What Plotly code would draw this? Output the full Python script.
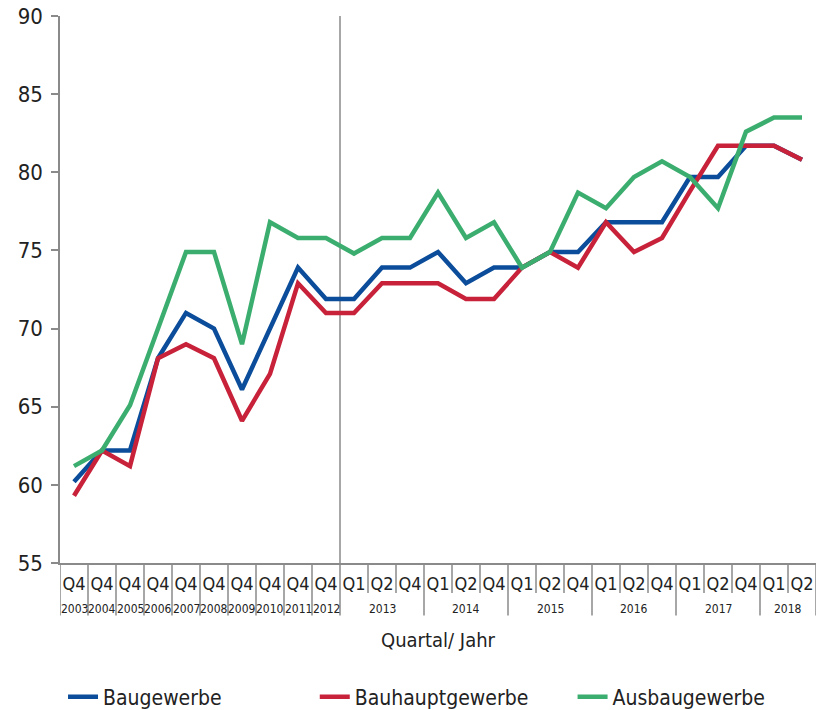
import plotly.graph_objects as go

# Quarter / year categories
quarters = ["Q4"] * 10 + ["Q1", "Q2", "Q4"] * 5 + ["Q1", "Q2"]
years = [str(y) for y in range(2003, 2013)] + \
    [y for y in ["2013", "2014", "2015", "2016", "2017"] for _ in range(3)] + ["2018", "2018"]

# Series values
baugewerbe = [60.2, 62.2, 62.2, 68.1, 71.0, 70.0, 66.1, 70.0, 73.9, 71.9,
              71.9, 73.9, 73.9, 74.9, 72.9, 73.9, 73.9, 74.9, 74.9, 76.8,
              76.8, 76.8, 79.7, 79.7, 81.7, 81.7, 80.8]
bauhauptgewerbe = [59.3, 62.2, 61.2, 68.1, 69.0, 68.1, 64.1, 67.1, 72.9, 71.0,
                   71.0, 72.9, 72.9, 72.9, 71.9, 71.9, 73.9, 74.9, 73.9, 76.8,
                   74.9, 75.8, 78.8, 81.7, 81.7, 81.7, 80.8]
ausbaugewerbe = [61.2, 62.2, 65.1, 70.0, 74.9, 74.9, 69.0, 76.8, 75.8, 75.8,
                 74.8, 75.8, 75.8, 78.7, 75.8, 76.8, 73.9, 74.9, 78.7, 77.7,
                 79.7, 80.7, 79.7, 77.7, 82.6, 83.5, 83.5]

series = [
    ("Baugewerbe", baugewerbe, "#0b4d9a", "legend"),
    ("Bauhauptgewerbe", bauhauptgewerbe, "#c8213a", "legend2"),
    ("Ausbaugewerbe", ausbaugewerbe, "#3bae6f", "legend3"),
]

FONT = ("Liberation Sans Narrow, Noto Sans Condensed, DejaVu Sans Condensed, "
        "Arial Narrow, Liberation Sans, Arial")
AXIS_GREY = "#8a8a8a"
TEXT = "#222222"

x = list(range(len(quarters)))

fig = go.Figure()
for name, vals, color, leg in series:
    fig.add_trace(go.Scatter(
        x=x, y=vals, name=name, mode="lines",
        line=dict(color=color, width=4.5),
        legend=leg, hoverinfo="skip",
    ))

# Divider lines between quarters (short) and between years (long)
shapes = []
for i in range(len(quarters) + 1):
    b = i - 0.5
    year_edge = (i == 0 or i == len(quarters) or years[i] != years[i - 1])
    shapes.append(dict(
        type="line", xref="x", yref="paper",
        x0=b, x1=b, y0=0, y1=-0.096 if year_edge else -0.055,
        line=dict(color=AXIS_GREY, width=1.5), layer="above",
    ))

# Vertical separator between yearly and quarterly data
split = years.index("2013") - 0.5
shapes.append(dict(
    type="line", xref="x", yref="paper", x0=split, x1=split, y0=0, y1=1,
    line=dict(color=AXIS_GREY, width=1.5), layer="below",
))

# Year labels centred under each year group
annotations = []
start = 0
for i in range(1, len(years) + 1):
    if i == len(years) or years[i] != years[start]:
        annotations.append(dict(
            x=(start + i - 1) / 2, y=-0.084, xref="x", yref="paper",
            text=years[start], showarrow=False, yanchor="middle",
            font=dict(family=FONT, size=12, color=TEXT),
        ))
        start = i


def legend_box(xpos):
    return dict(
        orientation="h", x=xpos, xanchor="left", y=-0.245, yanchor="middle",
        font=dict(family=FONT, size=21, color=TEXT),
        bgcolor="rgba(0,0,0,0)",
    )


fig.update_layout(
    width=819, height=710,
    margin=dict(l=60, r=3, t=16, b=147, autoexpand=False),
    plot_bgcolor="white", paper_bgcolor="white",
    font=dict(family=FONT, color=TEXT),
    shapes=shapes, annotations=annotations,
    showlegend=True,
    legend=legend_box(0.004),
    legend2=legend_box(0.337),
    legend3=legend_box(0.678),
    xaxis=dict(
        range=[-0.5, len(quarters) - 0.5],
        tickmode="array", tickvals=x, ticktext=quarters,
        ticks="", ticklabelstandoff=4,
        tickfont=dict(family=FONT, size=18, color=TEXT),
        showgrid=False, zeroline=False, automargin=False,
        showline=True, linecolor=AXIS_GREY, linewidth=1.5,
        title=dict(text="Quartal/ Jahr", standoff=40,
                   font=dict(family=FONT, size=20, color=TEXT)),
    ),
    yaxis=dict(
        range=[55, 90], dtick=5, tick0=55, automargin=False,
        ticks="outside", ticklen=7, tickwidth=1.5, tickcolor=AXIS_GREY,
        ticklabelstandoff=4,
        tickfont=dict(family=FONT, size=22, color=TEXT),
        showgrid=False, zeroline=False,
        showline=True, linecolor=AXIS_GREY, linewidth=1.5,
    ),
)

fig.write_html("out.html")
